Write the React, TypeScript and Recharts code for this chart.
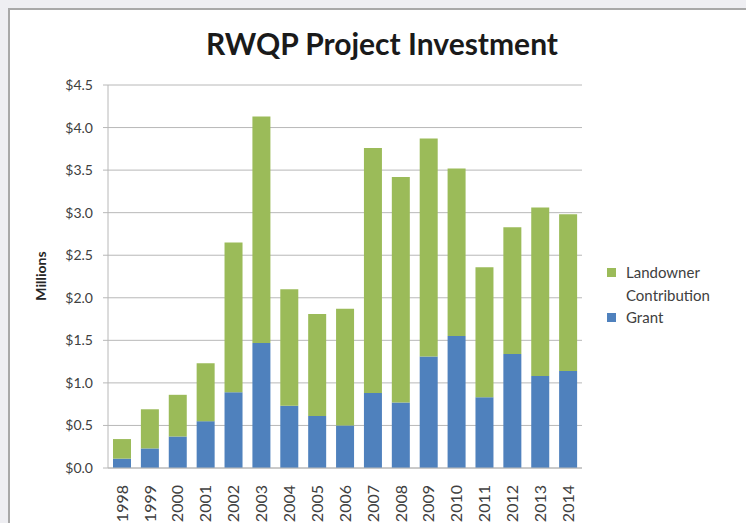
import React from 'react';
import { BarChart, Bar, XAxis, YAxis, CartesianGrid } from 'recharts';

const years = ['1998','1999','2000','2001','2002','2003','2004','2005','2006','2007','2008','2009','2010','2011','2012','2013','2014'];
const grant = [0.11, 0.23, 0.37, 0.55, 0.89, 1.47, 0.73, 0.61, 0.50, 0.88, 0.77, 1.31, 1.55, 0.83, 1.34, 1.08, 1.14];
const landowner = [0.23, 0.46, 0.49, 0.68, 1.76, 2.66, 1.37, 1.20, 1.37, 2.88, 2.65, 2.56, 1.97, 1.53, 1.49, 1.98, 1.84];
const yTicks = [0, 0.5, 1.0, 1.5, 2.0, 2.5, 3.0, 3.5, 4.0, 4.5];

const data = years.map((y, i) => ({ year: y, grant: grant[i], landowner: landowner[i] }));

const FONT = 'Lato, "Open Sans", sans-serif';
const GREEN = '#9bbb59';
const BLUE = '#4f81bd';

const XTick = (props: any) => {
  const { x, y, payload } = props;
  return (
    <text x={x} y={y + 9} transform={`rotate(-90, ${x}, ${y + 9})`} textAnchor="end" dy="0.36em" fill="#404040" fontSize={16} fontFamily={FONT}>
      {payload.value}
    </text>
  );
};

export default function App() {
  return (
    <div style={{ position: 'absolute', left: 0, top: 0, width: 746, height: 523, background: '#eeeef2', overflow: 'hidden' }}>
      <div style={{ position: 'absolute', left: 8, top: 8, width: 760, height: 540, background: '#fff', borderTop: '2px solid #a8a8a8', borderLeft: '2px solid #a8a8a8' }} />
      <div style={{ position: 'absolute', left: 0, top: 0 }}>
        <BarChart width={746} height={523} data={data} margin={{ top: 85, right: 164, bottom: 0, left: 20 }} barSize={18}>
          <text x={382} y={55} textAnchor="middle" fontFamily={FONT} fontWeight={700} fontSize={30} fill="#1a1a1a">RWQP Project Investment</text>
          <text x={46} y={276} transform="rotate(-90, 46, 276)" textAnchor="middle" fontFamily={FONT} fontWeight={700} fontSize={14} fill="#262626">Millions</text>
          <CartesianGrid vertical={false} stroke="#b8b8b8" />
          <XAxis dataKey="year" interval={0} tickLine={false} axisLine={{ stroke: '#b8b8b8' }} height={55} tick={<XTick />} />
          <YAxis domain={[0, 4.5]} ticks={yTicks} width={88} tickSize={5} axisLine={{ stroke: '#b8b8b8' }} tickLine={{ stroke: '#b8b8b8' }}
            tickFormatter={(v: number) => `$${v.toFixed(1)}`} tick={{ fill: '#404040', fontSize: 14, fontFamily: FONT }} tickMargin={10} />
          <Bar dataKey="grant" stackId="a" fill={BLUE} isAnimationActive={false} />
          <Bar dataKey="landowner" stackId="a" fill={GREEN} isAnimationActive={false} />
        </BarChart>
      </div>
      <div style={{ position: 'absolute', left: 607, top: 261, fontFamily: FONT, fontSize: 15, color: '#404040', lineHeight: '22.5px' }}>
        <div style={{ display: 'flex', alignItems: 'center' }}>
          <span style={{ width: 9, height: 9, background: GREEN, display: 'inline-block', marginRight: 10 }} />
          <span>Landowner</span>
        </div>
        <div style={{ paddingLeft: 19 }}>Contribution</div>
        <div style={{ display: 'flex', alignItems: 'center' }}>
          <span style={{ width: 9, height: 9, background: BLUE, display: 'inline-block', marginRight: 10 }} />
          <span>Grant</span>
        </div>
      </div>
    </div>
  );
}
